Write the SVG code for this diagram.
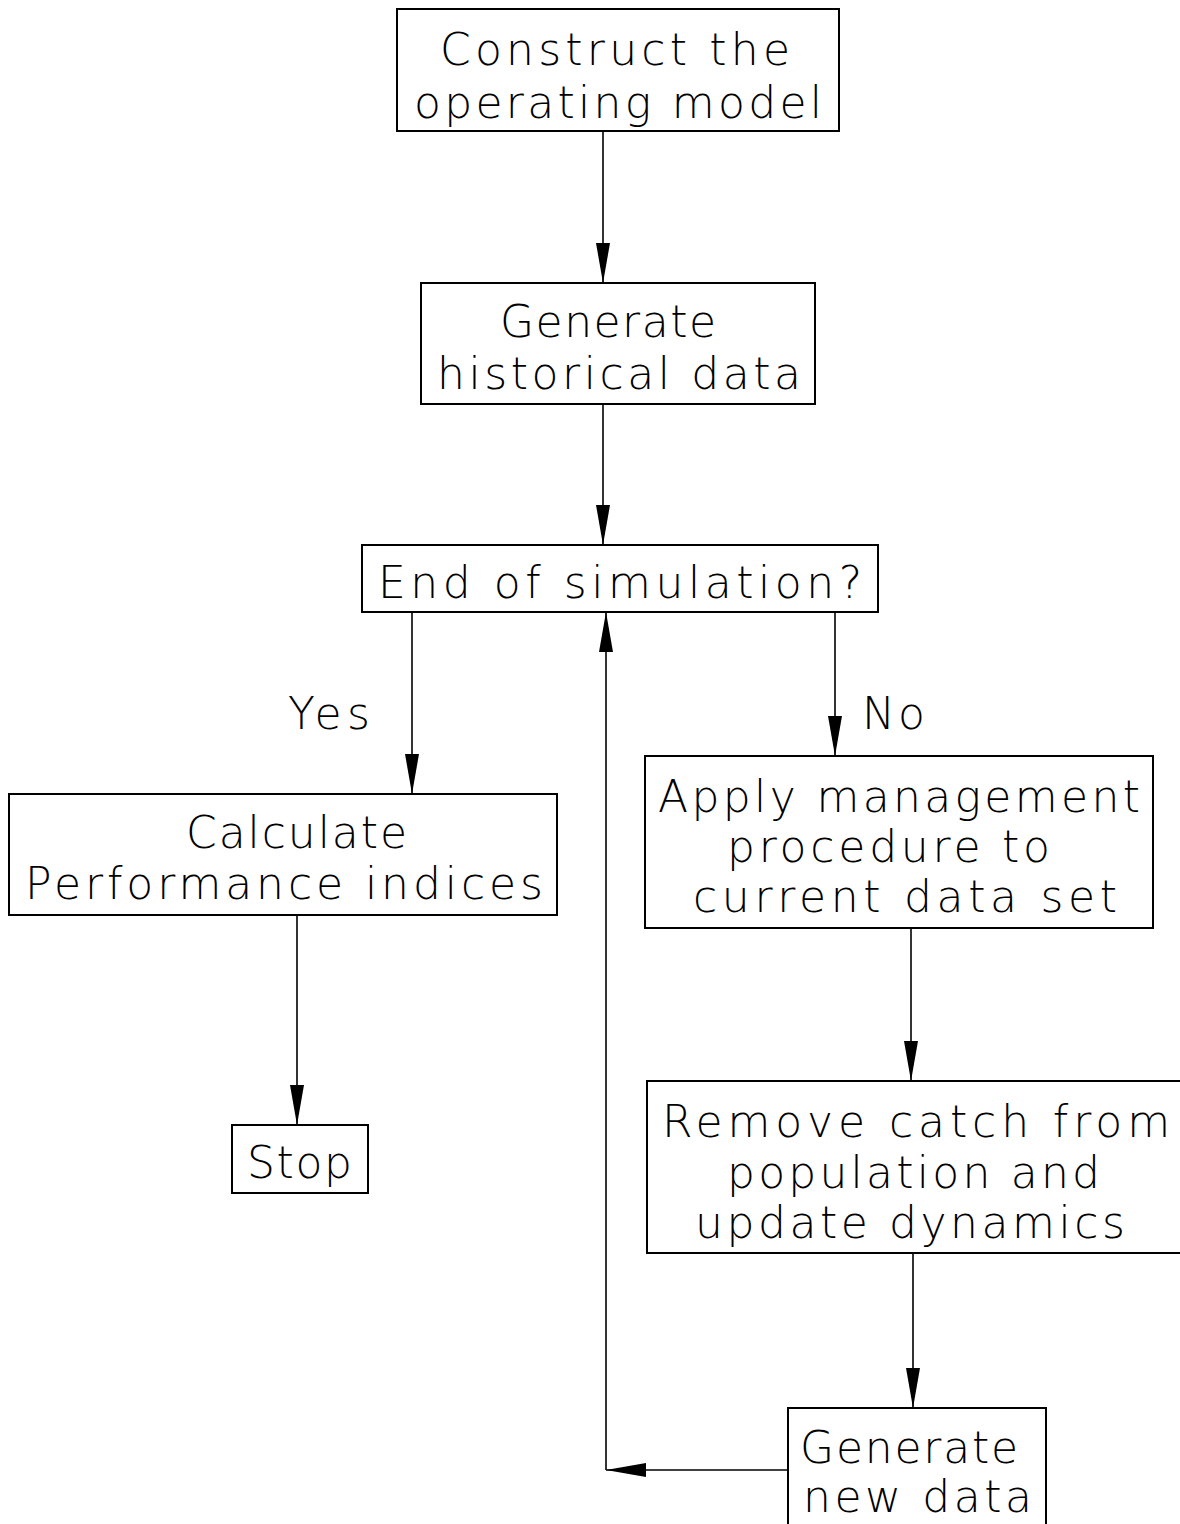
<svg xmlns="http://www.w3.org/2000/svg" width="1180" height="1524" viewBox="0 0 1180 1524">
<defs>
<marker id="ah" viewBox="0 -7 40 14" refX="40" refY="0" markerWidth="40" markerHeight="14" markerUnits="userSpaceOnUse" orient="auto">
<path d="M0,-7 L40,0 L0,7 Z" fill="#000"/>
</marker>
<style>
.box{fill:#fff;stroke:#000;stroke-width:2}
.t{font-family:"DejaVu Sans","Liberation Sans",Arial,sans-serif;font-weight:200;font-size:44px;fill:#000}
.c{fill:none;stroke:#000;stroke-width:1.6}
</style>
</defs>
<rect width="1180" height="1524" fill="#fff"/>
<g id="connectors">
<line class="c" x1="603" y1="131" x2="603" y2="283" marker-end="url(#ah)"/>
<line class="c" x1="603" y1="404" x2="603" y2="545" marker-end="url(#ah)"/>
<line class="c" x1="412" y1="612" x2="412" y2="794" marker-end="url(#ah)"/>
<line class="c" x1="835" y1="612" x2="835" y2="756" marker-end="url(#ah)"/>
<line class="c" x1="297" y1="915" x2="297" y2="1125" marker-end="url(#ah)"/>
<line class="c" x1="911" y1="928" x2="911" y2="1081" marker-end="url(#ah)"/>
<line class="c" x1="913" y1="1253" x2="913" y2="1408" marker-end="url(#ah)"/>
<line class="c" x1="788" y1="1470" x2="606" y2="1470" marker-end="url(#ah)"/>
<line class="c" x1="606" y1="1470" x2="606" y2="612" marker-end="url(#ah)"/>
<text class="t" x="288" y="729" textLength="82" lengthAdjust="spacing">Yes</text>
<text class="t" x="862" y="729" textLength="63" lengthAdjust="spacing">No</text>
</g>
<g id="n1">
<rect class="box" x="397" y="9" width="442" height="122"/>
<text class="t" x="440" y="65" textLength="350" lengthAdjust="spacing">Construct the</text>
<text class="t" x="414" y="118" textLength="408" lengthAdjust="spacing">operating model</text>
</g>
<g id="n2">
<rect class="box" x="421" y="283" width="394" height="121"/>
<text class="t" x="500" y="337" textLength="216" lengthAdjust="spacing">Generate</text>
<text class="t" x="437" y="389" textLength="364" lengthAdjust="spacing">historical data</text>
</g>
<g id="n3">
<rect class="box" x="362" y="545" width="516" height="67"/>
<text class="t" x="378" y="598" textLength="484" lengthAdjust="spacing">End of simulation?</text>
</g>
<g id="n4">
<rect class="box" x="9" y="794" width="548" height="121"/>
<text class="t" x="186" y="848" textLength="221" lengthAdjust="spacing">Calculate</text>
<text class="t" x="25" y="899" textLength="518" lengthAdjust="spacing">Performance indices</text>
</g>
<g id="n5">
<rect class="box" x="232" y="1125" width="136" height="68"/>
<text class="t" x="247" y="1178" textLength="105" lengthAdjust="spacing">Stop</text>
</g>
<g id="n6">
<rect class="box" x="645" y="756" width="508" height="172"/>
<text class="t" x="658" y="812" textLength="482" lengthAdjust="spacing">Apply management</text>
<text class="t" x="727" y="862" textLength="323" lengthAdjust="spacing">procedure to</text>
<text class="t" x="693" y="912" textLength="424" lengthAdjust="spacing">current data set</text>
</g>
<g id="n7">
<rect class="box" x="647" y="1081" width="545" height="172"/>
<text class="t" x="662" y="1137" textLength="508" lengthAdjust="spacing">Remove catch from</text>
<text class="t" x="727" y="1188" textLength="373" lengthAdjust="spacing">population and</text>
<text class="t" x="695" y="1238" textLength="430" lengthAdjust="spacing">update dynamics</text>
</g>
<g id="n8">
<rect class="box" x="788" y="1408" width="258" height="130"/>
<text class="t" x="800" y="1463" textLength="218" lengthAdjust="spacing">Generate</text>
<text class="t" x="803" y="1512" textLength="229" lengthAdjust="spacing">new data</text>
</g>
</svg>
